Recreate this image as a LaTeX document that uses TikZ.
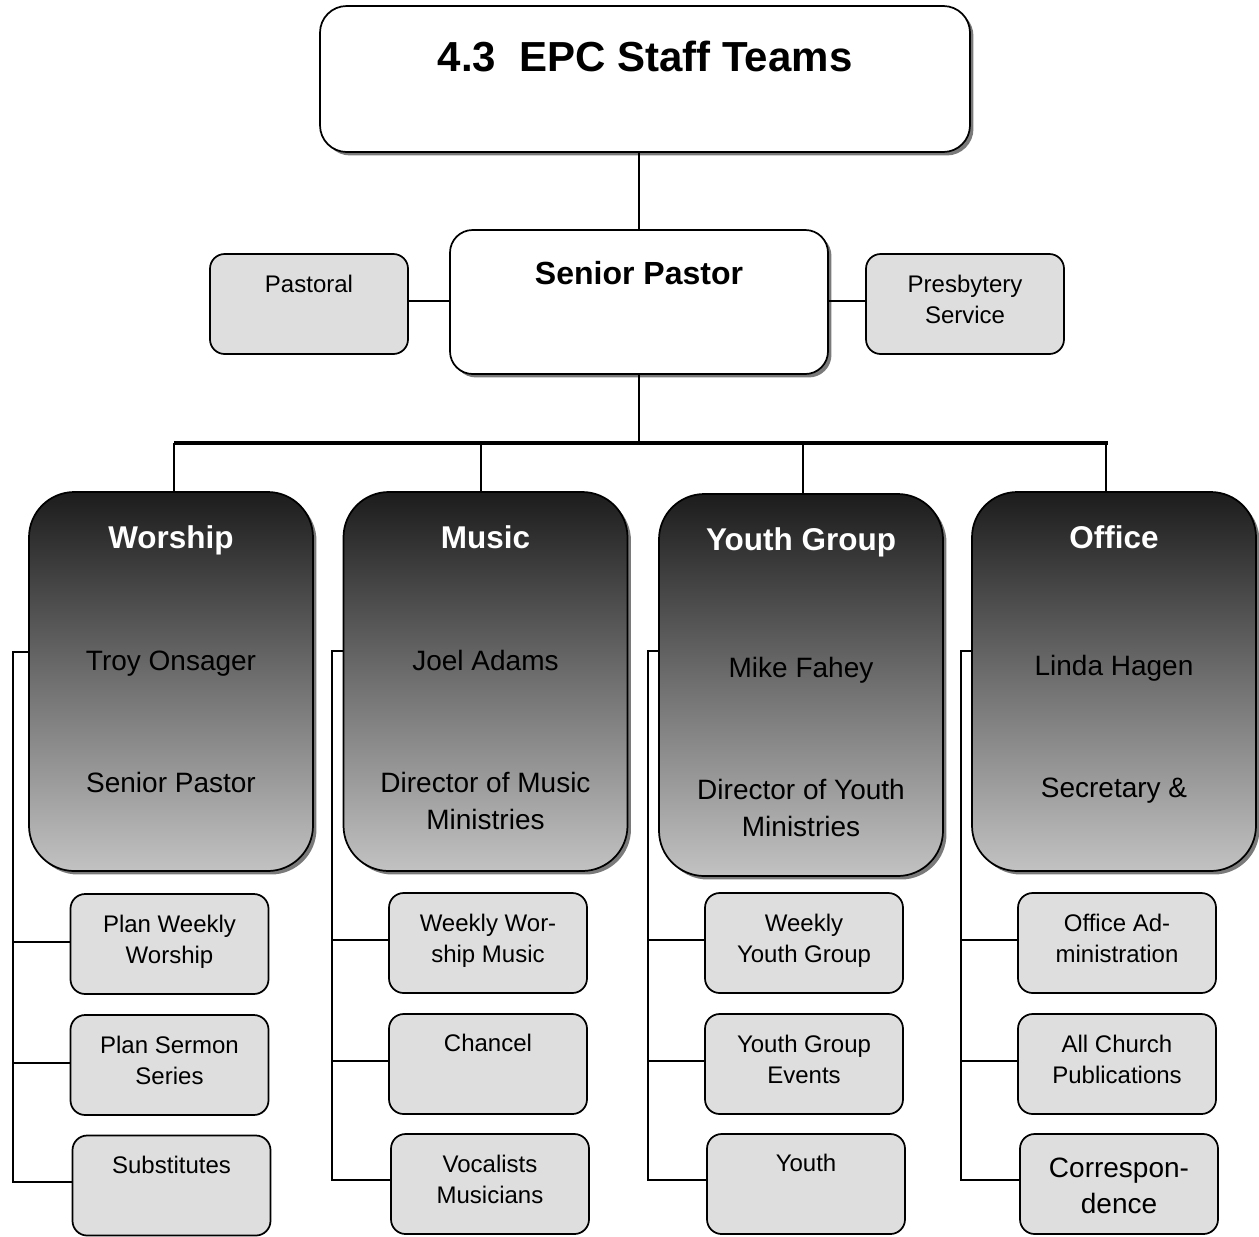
\documentclass[tikz,border=0pt]{standalone}
\usepackage{fontspec}
\setmainfont{Liberation Sans}
\usetikzlibrary{shadows,calc}
\definecolor{boxgray}{HTML}{DEDEDE}
\definecolor{gtop}{HTML}{1C1C1C}
\definecolor{gmid}{HTML}{707070}
\definecolor{gbot}{HTML}{C2C2C2}
\definecolor{shadowgray}{HTML}{7A7A7A}
\newcommand\fsmall{\fontsize{18}{23.25}\selectfont}
\newcommand\fcorr{\fontsize{21}{27}\selectfont}
\newcommand\fbody{\fontsize{21}{27.75}\selectfont}
\newcommand\fhead{\fontsize{23.6}{28}\selectfont\bfseries}
\newcommand\ftitle{\fontsize{31.5}{36}\selectfont\bfseries}
\newcommand\fsp{\fontsize{24}{28}\selectfont\bfseries}
\tikzset{
  every node/.style={inner sep=0pt, outer sep=0pt},
  conn/.style={line width=1.4pt},
  busline/.style={line width=3pt},
  shad/.style={drop shadow={shadow xshift=2.6pt, shadow yshift=-2.6pt, fill=shadowgray, opacity=1}},
  smallbox/.style={draw, line width=1.3pt, fill=boxgray, rounded corners=11pt, minimum width=148.5pt, minimum height=75pt},
  bigbox/.style={draw, line width=1.3pt, rounded corners=34pt, minimum width=213pt, minimum height=284.25pt, top color=gtop, bottom color=gbot, middle color=gmid, shad},
  titlebox/.style={draw, line width=1.3pt, fill=white, rounded corners=20pt, minimum width=487.5pt, minimum height=109.5pt, shad},
  spbox/.style={draw, line width=1.3pt, fill=white, rounded corners=17pt, minimum width=283.5pt, minimum height=108pt, shad},
  stext/.style={font=\fsmall, align=center, anchor=base},
  ctext/.style={font=\fcorr, align=center, anchor=base},
  btext/.style={font=\fbody, align=center, anchor=base},
  htext/.style={font=\fhead, text=white, align=center, anchor=base},
}
\begin{document}
\begin{tikzpicture}[x=0.75pt,y=-0.75pt]
\useasboundingbox (0,0) rectangle (1259,1236);

% top
\node[titlebox] (title) at (645,79) {};
\node[font=\ftitle, anchor=base] (titlet) at ($(title.north)+(0,65)$) {4.3\ \ EPC Staff Teams};
\node[spbox] (sp) at (639,302) {};
\node[font=\fsp, anchor=base] (spt) at ($(sp.north)+(0,54)$) {Senior Pastor};
\node[smallbox] (pas) at (309,304) {};
\node[stext] (past) at ($(pas.north)+(0,38.5)$) {Pastoral};
\node[smallbox] (pre) at (965,304) {};
\node[stext] (pret) at ($(pre.north)+(0,69.5)$) {Presbytery\\Service};

\draw[conn] (sp.north) -- (sp.north |- title.south);
\draw[conn] (pas.east |- 0,301) -- (sp.west |- 0,301);
\draw[conn] (sp.east |- 0,301) -- (pre.west |- 0,301);

% bus
\coordinate (busL) at (174,443);
\coordinate (busR) at (1108,443);
\coordinate (d2) at (481,443);
\coordinate (d3) at (803,443);
\coordinate (d4) at (1106,443);

% big boxes
\node[bigbox] (wor) at (171,681.5) {};
\node[bigbox] (mus) at (485.5,681.5) {};
\node[bigbox, minimum height=286.5pt] (you) at (801,685) {};
\node[bigbox] (off) at (1114,681.5) {};

\draw[conn] (sp.south) -- (sp.south |- busL);
\draw[busline] (busL) -- (busR);
\draw[conn] (busL) -- (busL |- wor.north);
\draw[conn] (d2) -- (d2 |- mus.north);
\draw[conn] (d3) -- (d3 |- you.north);
\draw[conn] (d4) -- (d4 |- off.north);

\node[htext] (wort) at ($(wor.north)+(0,56)$) {Worship};
\node[btext] (worn) at ($(wor.north)+(0,178)$) {Troy Onsager};
\node[btext] (worr) at ($(wor.north)+(0,300)$) {Senior Pastor};

\node[htext] (must) at ($(mus.north)+(0,56)$) {Music};
\node[btext] (musn) at ($(mus.north)+(0,178)$) {Joel Adams};
\node[btext] (musr) at ($(mus.north)+(0,337)$) {Director of Music\\Ministries};

\node[htext] (yout) at ($(you.north)+(0,56)$) {Youth Group};
\node[btext] (youn) at ($(you.north)+(0,183)$) {Mike Fahey};
\node[btext] (your) at ($(you.north)+(0,342)$) {Director of Youth\\Ministries};

\node[htext] (offt) at ($(off.north)+(0,56)$) {Office};
\node[btext] (offn) at ($(off.north)+(0,183)$) {Linda Hagen};
\node[btext] (offr) at ($(off.north)+(0,305)$) {Secretary \&};

% small boxes: worship
\node[smallbox] (w1) at (169.5,944) {};
\node[smallbox] (w2) at (169.5,1065) {};
\node[smallbox] (w3) at (171.5,1185.5) {};
\node[stext] (w1t) at ($(w1.north)+(0,69)$) {Plan Weekly\\Worship};
\node[stext] (w2t) at ($(w2.north)+(0,69)$) {Plan Sermon\\Series};
\node[stext] (w3t) at ($(w3.north)+(0,37.5)$) {Substitutes};
\coordinate (wv) at (13,652);
\draw[conn] (wor.west |- wv) -- (wv) -- (wv |- 0,1182) -- (w3.west |- 0,1182);
\draw[conn] (wv |- 0,942) -- (w1.west |- 0,942);
\draw[conn] (wv |- 0,1063) -- (w2.west |- 0,1063);

% music
\node[smallbox] (m1) at (488,943) {};
\node[smallbox] (m2) at (488,1064) {};
\node[smallbox] (m3) at (490,1184) {};
\node[stext] (m1t) at ($(m1.north)+(0,69)$) {Weekly Wor-\\ship Music};
\node[stext] (m2t) at ($(m2.north)+(0,37.5)$) {Chancel};
\node[stext] (m3t) at ($(m3.north)+(0,69)$) {Vocalists\\Musicians};
\coordinate (mv) at (332,651);
\draw[conn] (mus.west |- mv) -- (mv) -- (mv |- 0,1180) -- (m3.west |- 0,1180);
\draw[conn] (mv |- 0,940) -- (m1.west |- 0,940);
\draw[conn] (mv |- 0,1061) -- (m2.west |- 0,1061);

% youth
\node[smallbox] (y1) at (804,943) {};
\node[smallbox] (y2) at (804,1064) {};
\node[smallbox] (y3) at (806,1184) {};
\node[stext] (y1t) at ($(y1.north)+(0,69)$) {Weekly\\Youth Group};
\node[stext] (y2t) at ($(y2.north)+(0,69)$) {Youth Group\\Events};
\node[stext] (y3t) at ($(y3.north)+(0,37.5)$) {Youth};
\coordinate (yv) at (648,651);
\draw[conn] (you.west |- yv) -- (yv) -- (yv |- 0,1180) -- (y3.west |- 0,1180);
\draw[conn] (yv |- 0,940) -- (y1.west |- 0,940);
\draw[conn] (yv |- 0,1061) -- (y2.west |- 0,1061);

% office
\node[smallbox] (o1) at (1117,943) {};
\node[smallbox] (o2) at (1117,1064) {};
\node[smallbox] (o3) at (1119,1184) {};
\node[stext] (o1t) at ($(o1.north)+(0,69)$) {Office Ad-\\ministration};
\node[stext] (o2t) at ($(o2.north)+(0,69)$) {All Church\\Publications};
\node[ctext] (o3t) at ($(o3.north)+(0,79)$) {Correspon-\\dence};
\coordinate (ov) at (961,651);
\draw[conn] (off.west |- ov) -- (ov) -- (ov |- 0,1180) -- (o3.west |- 0,1180);
\draw[conn] (ov |- 0,940) -- (o1.west |- 0,940);
\draw[conn] (ov |- 0,1061) -- (o2.west |- 0,1061);
\end{tikzpicture}
\end{document}
